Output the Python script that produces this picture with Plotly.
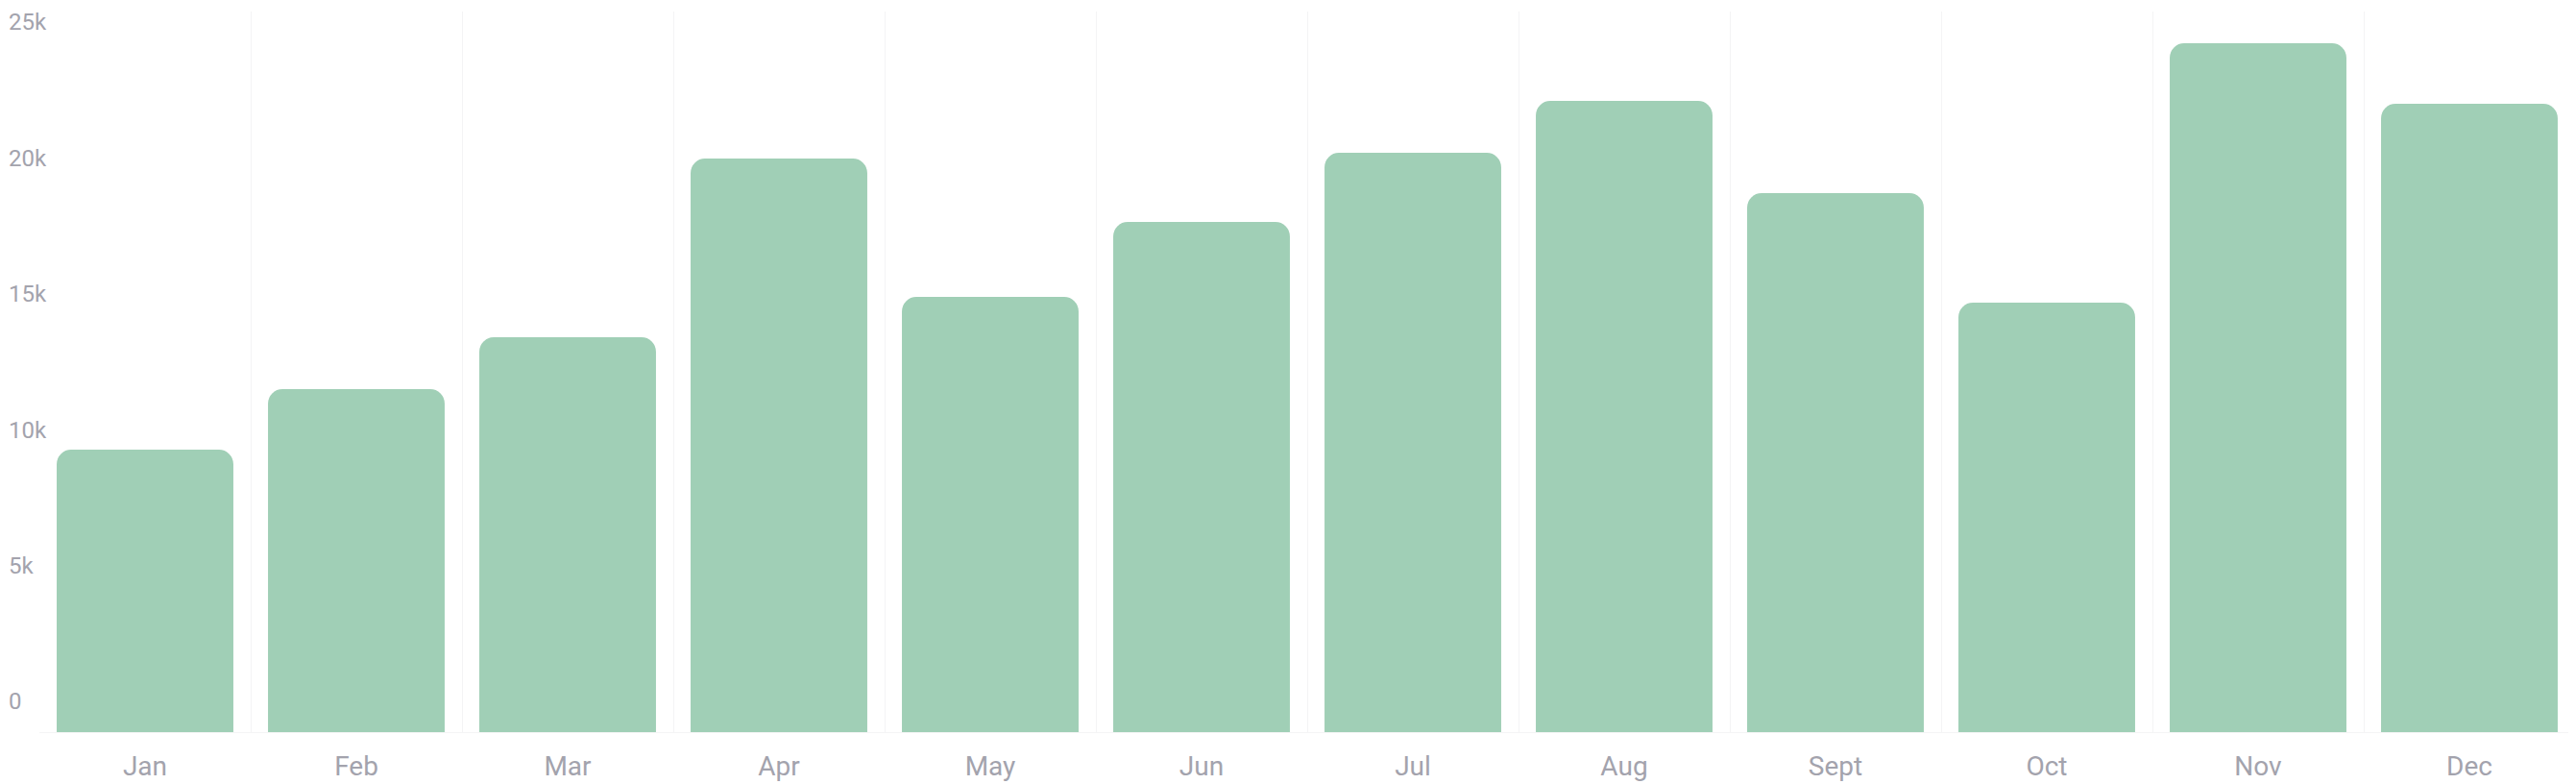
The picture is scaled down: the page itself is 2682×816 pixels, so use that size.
import plotly.graph_objects as go

months = ["Jan", "Feb", "Mar", "Apr", "May", "Jun",
          "Jul", "Aug", "Sept", "Oct", "Nov", "Dec"]
sales = [9800, 11900, 13700, 19900, 15100, 17700,
         20100, 21900, 18700, 14900, 23900, 21800]

y_ticks = [0, 5000, 10000, 15000, 20000, 25000]
y_labels = ["0", "5k", "10k", "15k", "20k", "25k"]

# the page body adds an 8px margin, so the figure is a bit smaller than the window
W, H = 2674, 808
bar_color = "#a0cfb6"
text_color = "#a3a3ad"
grid_color = "#f4f4f5"

fig = go.Figure()

fig.add_trace(go.Bar(
    x=months,
    y=sales,
    marker=dict(color=bar_color, line=dict(width=0), cornerradius=15),
    hoverinfo="x+y",
    showlegend=False,
))

# invisible helper so the label axis gets drawn
fig.add_trace(go.Scatter(
    x=months,
    y=sales,
    yaxis="y2",
    mode="markers",
    marker=dict(opacity=0),
    hoverinfo="skip",
    showlegend=False,
))

fig.update_layout(
    width=W,
    height=H,
    margin=dict(l=0, r=1, t=4, b=54, autoexpand=False),
    paper_bgcolor="white",
    plot_bgcolor="white",
    bargap=0.164,
    font=dict(family="Roboto, sans-serif", color=text_color),
    xaxis=dict(
        domain=[33 / (W - 1), 1],
        type="category",
        range=[-0.5, len(months) - 0.5],
        tickson="boundaries",
        showgrid=True,
        gridcolor=grid_color,
        gridwidth=1,
        showline=True,
        linecolor=grid_color,
        linewidth=1,
        ticks="",
        tickfont=dict(size=28, color=text_color),
        ticklabelstandoff=10,
        automargin=False,
        fixedrange=True,
    ),
    yaxis=dict(
        range=[0, 25000],
        showgrid=False,
        zeroline=False,
        showticklabels=False,
        ticks="",
        automargin=False,
        fixedrange=True,
    ),
    # labels sit in an evenly spaced column a little above the real ticks
    yaxis2=dict(
        overlaying="y",
        anchor="free",
        position=0,
        side="right",
        range=[-1131.5, 25389.0],
        tickvals=y_ticks,
        ticktext=y_labels,
        ticks="",
        ticklabeloverflow="allow",
        showgrid=False,
        zeroline=False,
        showline=False,
        automargin=False,
        tickfont=dict(size=24, color=text_color),
        fixedrange=True,
    ),
)

fig.write_html("out.html")
